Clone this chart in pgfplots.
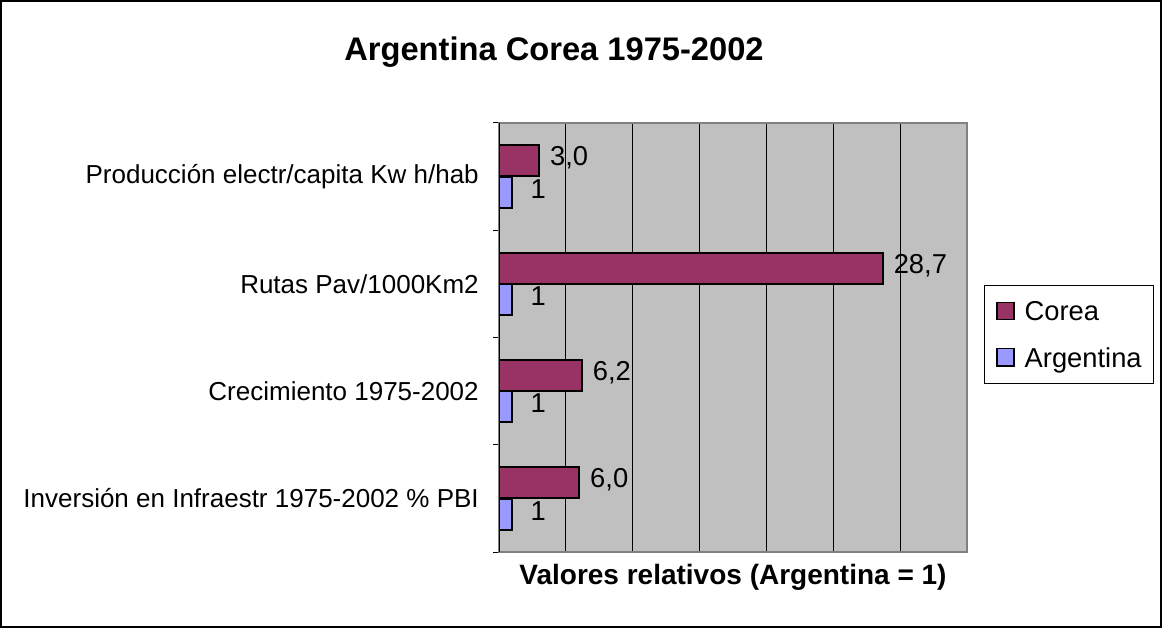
\documentclass[border=0pt]{standalone}
\usepackage{pgfplots}
\pgfplotsset{compat=1.18}
\usepackage{fontspec}
\setmainfont{Liberation Sans}
\definecolor{corea}{HTML}{993366}
\definecolor{argen}{HTML}{9999FF}
\definecolor{plotbg}{HTML}{C0C0C0}

\begin{document}
\begin{tikzpicture}[x=0.75pt,y=0.75pt]
\useasboundingbox (0,0) rectangle (1162,628);
\draw[black, line width=1.5pt] (1,1) rectangle (1161,627);
\node[font=\fontsize{24.5}{29}\selectfont\bfseries] at (554,576) {Argentina Corea 1975-2002};
\begin{axis}[
  at={(374.25pt,57pt)}, anchor=south west,
  scale only axis, width=351pt, height=321.75pt,
  xbar, bar width=0.29,
  xmin=0, xmax=35, ymin=-0.5, ymax=3.5,
  /pgf/number format/assume math mode=true,
  axis background/.style={fill=plotbg},
  axis line style={draw=gray, line width=1.5pt},
  xtick={0,5,...,35}, xticklabels={},
  xmajorgrids, major x grid style={black, line width=0.75pt},
  ytick={0,1,2,3},
  yticklabels={Inversión en Infraestr 1975-2002 \% PBI, Crecimiento 1975-2002, Rutas Pav/1000Km2, Producción electr/capita Kw h/hab},
  minor ytick={-0.5,0.5,1.5,2.5,3.5},
  major tick length=0pt, minor tick length=4.5pt,
  tick align=outside, ytick pos=left,
  minor y tick style={black, line width=0.75pt},
  yticklabel style={anchor=east, inner sep=0pt, xshift=-15pt, font=\fontsize{19.5}{23}\selectfont},
  xlabel={Valores relativos (Argentina = 1)},
  xlabel style={at={(axis description cs:0.5,-0.058)}, anchor=center, font=\fontsize{21}{25}\selectfont\bfseries},
  point meta=x,
  nodes near coords,
  every node near coord/.append style={anchor=west, inner sep=0pt, font=\fontsize{20.5}{24}\selectfont},
  legend style={at={(1.036,0.622)}, anchor=north west, draw=black, line width=0.75pt,
    inner xsep=9pt, inner ysep=12pt, row sep=20pt,
    nodes={inner sep=0pt, text depth=0pt},
    font=\fontsize{20.5}{24}\selectfont,
    /tikz/every odd column/.append style={column sep=7.5pt}},
  legend cell align=left,
  legend image code/.code={\draw[#1, draw=black, line width=1pt] (0pt,-6.4pt) rectangle (12.75pt,6.4pt);},
]
\addplot[fill=corea, draw=black, line width=1.5pt, bar shift=0.147,
  nodes near coords={\pgfmathprintnumber[fixed, fixed zerofill, precision=1, use comma, assume math mode=true]{\pgfplotspointmeta}},
  every node near coord/.append style={xshift=7.5pt, yshift=2pt}]
  coordinates {(6.0,0) (6.2,1) (28.7,2) (3.0,3)};
\addlegendentry{Corea}
\addplot[fill=argen, draw=black, line width=1.5pt, bar shift=-0.147,
  nodes near coords={\pgfmathprintnumber[fixed, precision=0, assume math mode=true]{\pgfplotspointmeta}},
  every node near coord/.append style={xshift=13pt, yshift=2.5pt}]
  coordinates {(1,0) (1,1) (1,2) (1,3)};
\addlegendentry{Argentina}
\draw[black, line width=1pt] (rel axis cs:0,0) -- (rel axis cs:0,1);
\end{axis}
\end{tikzpicture}
\end{document}
